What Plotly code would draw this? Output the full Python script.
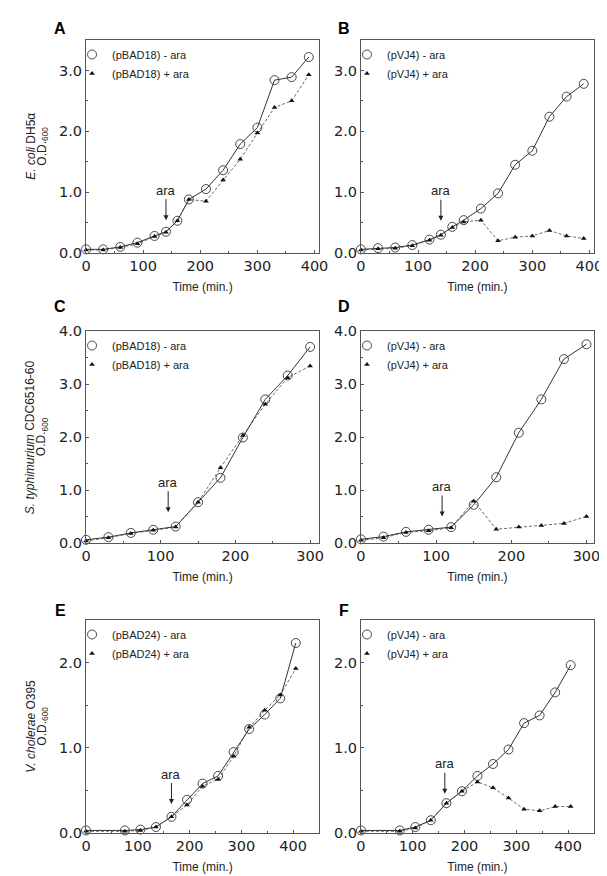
import plotly.graph_objects as go

# ---------------- data ----------------
t_AB = [0, 30, 60, 90, 120, 140, 160, 180, 210, 240, 270, 300, 330, 360, 390]
A_minus = [0.06, 0.06, 0.10, 0.17, 0.28, 0.35, 0.53, 0.88, 1.05, 1.36, 1.79, 2.06, 2.84, 2.89, 3.22]
A_plus = [0.05, 0.05, 0.09, 0.15, 0.27, 0.34, 0.53, 0.88, 0.85, 1.20, 1.54, 1.97, 2.39, 2.50, 2.93]
B_minus = [0.06, 0.08, 0.09, 0.13, 0.22, 0.30, 0.43, 0.54, 0.73, 0.98, 1.45, 1.68, 2.24, 2.57, 2.78]
B_plus = [0.05, 0.07, 0.08, 0.12, 0.21, 0.29, 0.42, 0.51, 0.54, 0.20, 0.26, 0.28, 0.37, 0.28, 0.24]

t_CD = [0, 30, 60, 90, 120, 150, 180, 210, 240, 270, 300]
C_minus = [0.06, 0.11, 0.19, 0.25, 0.31, 0.77, 1.23, 1.99, 2.71, 3.16, 3.70]
C_plus = [0.04, 0.10, 0.18, 0.24, 0.30, 0.77, 1.42, 2.03, 2.62, 3.12, 3.34]
D_minus = [0.07, 0.12, 0.21, 0.25, 0.30, 0.72, 1.24, 2.08, 2.71, 3.47, 3.75]
D_plus = [0.05, 0.10, 0.20, 0.23, 0.29, 0.79, 0.26, 0.30, 0.33, 0.37, 0.50]

t_EF = [0, 75, 105, 135, 165, 195, 225, 255, 285, 315, 345, 375, 405]
E_minus = [0.03, 0.03, 0.04, 0.07, 0.19, 0.39, 0.58, 0.67, 0.95, 1.22, 1.39, 1.58, 2.23]
E_plus = [0.02, 0.02, 0.03, 0.07, 0.19, 0.33, 0.55, 0.63, 0.90, 1.24, 1.44, 1.62, 1.93]
F_minus = [0.03, 0.03, 0.07, 0.15, 0.35, 0.49, 0.67, 0.81, 0.98, 1.29, 1.38, 1.65, 1.97]
F_plus = [0.02, 0.02, 0.06, 0.15, 0.35, 0.49, 0.60, 0.53, 0.41, 0.28, 0.26, 0.31, 0.31]

panel_letters = ["A", "B", "C", "D", "E", "F"]
plasmids = ["pBAD18", "pVJ4", "pBAD18", "pVJ4", "pBAD24", "pVJ4"]
strain_titles = ["<i>E. coli</i> DH5α", "<i>S. typhimurium</i> CDC6516-60", "<i>V. cholerae</i> O395"]
od_label = "O.D.<sub>600</sub>"
ara_x = [140, 140, 110, 108, 165, 162]
ara_y = [0.54, 0.53, 0.58, 0.50, 0.34, 0.46]
x_ranges = [[0, 408], [0, 408], [0, 312], [0, 310], [0, 450], [0, 450]]
y_ranges = [[0, 3.5], [0, 3.5], [0, 4.0], [0, 4.0], [0, 2.5], [0, 2.5]]
y_ticks = [[0, 1, 2, 3], [0, 1, 2, 3], [0, 1, 2, 3, 4], [0, 1, 2, 3, 4], [0, 1, 2], [0, 1, 2]]

series = [
    (t_AB, A_minus, A_plus), (t_AB, B_minus, B_plus),
    (t_CD, C_minus, C_plus), (t_CD, D_minus, D_plus),
    (t_EF, E_minus, E_plus), (t_EF, F_minus, F_plus),
]

# ---------------- layout geometry (pixels) ----------------
W, H = 607, 876
PL, PR = 78, 588
PT, PB = 32, 825
col_px = [(78, 312), (354, 588)]
row_px = [(32, 245), (323, 535), (612, 825)]
letter_y_px = [20, 298, 602]
letter_x_px = [52, 337]


def px_x(p):
    return (p - PL) / (PR - PL)


def px_y(p):
    return (PB - p) / (PB - PT)


FONT = "Liberation Sans, Arial, sans-serif"
TICKFONT = "DejaVu Sans, sans-serif"
INK = "#222222"
AX = "#555555"

fig = go.Figure()

for i in range(6):
    r, c = divmod(i, 2)
    n = i + 1
    xa = "x" if n == 1 else f"x{n}"
    ya = "y" if n == 1 else f"y{n}"
    lg = "legend" if n == 1 else f"legend{n}"
    t, ym, yp = series[i]
    # connecting lines (not in legend)
    fig.add_trace(go.Scatter(
        x=t, y=ym, xaxis=xa, yaxis=ya, mode="lines", showlegend=False,
        line=dict(color="#333333", width=1), hoverinfo="skip",
    ))
    fig.add_trace(go.Scatter(
        x=t, y=yp, xaxis=xa, yaxis=ya, mode="lines", showlegend=False,
        line=dict(color="#444444", width=0.8, dash="3px,2px"), hoverinfo="skip",
    ))
    # markers (in legend)
    fig.add_trace(go.Scatter(
        x=t, y=ym, xaxis=xa, yaxis=ya, mode="markers",
        name=f"({plasmids[i]}) - ara", legend=lg, cliponaxis=False,
        marker=dict(symbol="circle-open", size=9, color="#333333", line=dict(width=0.9)),
    ))
    fig.add_trace(go.Scatter(
        x=t, y=yp, xaxis=xa, yaxis=ya, mode="markers",
        name=f"({plasmids[i]}) + ara", legend=lg, cliponaxis=False,
        marker=dict(symbol="triangle-up", size=5, color="#111111"),
    ))

    x0, x1 = col_px[c]
    y0, y1 = row_px[r]
    axkw = dict(showline=True, linecolor=AX, linewidth=1, mirror=True,
                showgrid=False, zeroline=False, ticks="inside", ticklen=3,
                tickcolor=AX, tickfont=dict(family=TICKFONT, size=14.5, color=INK))
    xname = "xaxis" if n == 1 else f"xaxis{n}"
    yname = "yaxis" if n == 1 else f"yaxis{n}"
    fig.layout[xname] = dict(
        domain=[px_x(x0), px_x(x1)], anchor=ya, range=x_ranges[i],
        tickmode="array", tickvals=[v for v in range(0, 401, 100) if v <= x_ranges[i][1]],
        minor=dict(dtick=50, ticks="inside", ticklen=2, tickcolor=AX),
        title=dict(text="Time (min.)", font=dict(family=FONT, size=12, color=INK), standoff=9),
        **axkw)
    fig.layout[yname] = dict(
        domain=[px_y(y1), px_y(y0)], anchor=xa, range=y_ranges[i],
        tickmode="array", tickvals=y_ticks[i], ticktext=[f"{v:.1f}" for v in y_ticks[i]],
        minor=dict(dtick=0.5, ticks="inside", ticklen=2, tickcolor=AX),
        **axkw)

    fig.layout[lg] = dict(
        x=px_x(x0 - 14), y=px_y(y0 + 0), xanchor="left", yanchor="top",
        bgcolor="rgba(0,0,0,0)", borderwidth=0,
        font=dict(family=FONT, size=11, color=INK), tracegroupgap=0,
        itemwidth=30,
    )

    fig.add_annotation(
        x=ara_x[i], y=ara_y[i], xref=xa, yref=ya, text="ara",
        showarrow=True, arrowhead=2, arrowsize=1, arrowwidth=1, arrowcolor=INK,
        ax=0, ay=-30, font=dict(family=FONT, size=13, color=INK),
    )
    fig.add_annotation(
        x=px_x(letter_x_px[c]), y=px_y(letter_y_px[r]), xref="paper", yref="paper",
        text=f"<b>{panel_letters[i]}</b>", showarrow=False,
        font=dict(family=FONT, size=16, color="#000000"),
        xanchor="center", yanchor="middle",
    )

    if c == 0:
        ymid = px_y((y0 + y1) / 2)
        fig.add_annotation(
            x=px_x(22), y=ymid, xref="paper", yref="paper", text=strain_titles[r],
            textangle=-90, showarrow=False, xanchor="center", yanchor="middle",
            font=dict(family=FONT, size=12, color=INK),
        )
        fig.add_annotation(
            x=px_x(34), y=ymid, xref="paper", yref="paper", text=od_label,
            textangle=-90, showarrow=False, xanchor="center", yanchor="middle",
            font=dict(family=FONT, size=12, color=INK),
        )

fig.update_layout(
    width=W, height=H,
    margin=dict(l=PL, r=W - PR, t=PT, b=H - PB),
    paper_bgcolor="white", plot_bgcolor="white",
    showlegend=True,
)

fig.write_html("out.html")
